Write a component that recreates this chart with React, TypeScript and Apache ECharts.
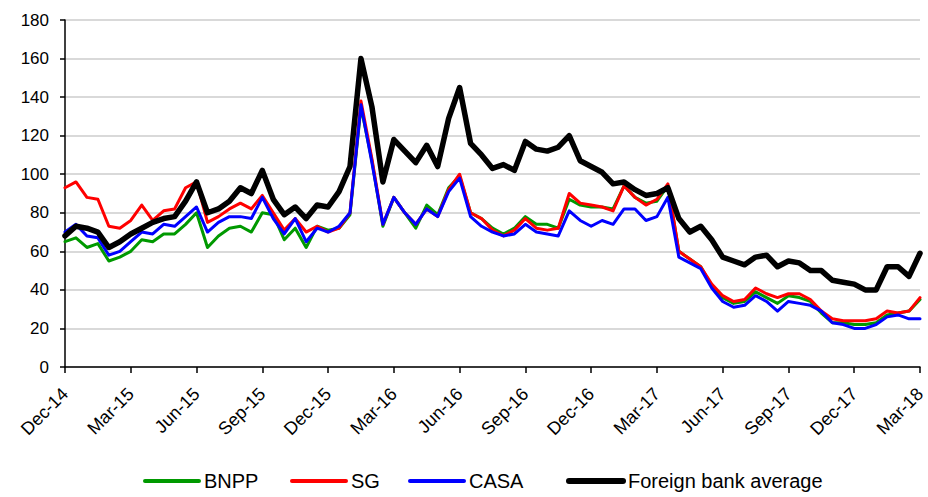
import React, { useEffect, useRef } from "react";
import * as echarts from "echarts";

// months since Dec-14 (x positions of the observations)
const monthOffsets = [
  0, 0.5, 1, 1.5, 2, 2.5, 3, 3.5, 4, 4.5, 5, 5.5, 6, 6.5, 7, 7.5, 8, 8.5, 9, 9.5,
  10, 10.5, 11, 11.5, 12, 12.5, 13, 13.5, 14, 14.5, 15, 15.5, 16, 16.5, 17, 17.5, 18, 18.5, 19, 19.5,
  20, 20.5, 21, 21.5, 22, 22.5, 23, 23.5, 24, 24.5, 25, 25.5, 26, 26.5, 27, 27.5, 28, 28.5, 29, 29.5,
  30, 30.5, 31, 31.5, 32, 32.5, 33, 33.5, 34, 34.5, 35, 35.5, 36, 36.5, 37, 37.5, 38, 38.5, 39,
];

const tickLabels = [
  "Dec-14", "Mar-15", "Jun-15", "Sep-15", "Dec-15", "Mar-16", "Jun-16",
  "Sep-16", "Dec-16", "Mar-17", "Jun-17", "Sep-17", "Dec-17", "Mar-18",
];

const seriesNames = ["BNPP", "SG", "CASA", "Foreign bank average"];

const bnpp = [
  65, 67, 62, 64, 55, 57, 60, 66, 65, 69, 69, 74, 80,
  62, 68, 72, 73, 70, 80, 79, 66, 72, 62, 73, 71,
  72, 79, 135, 107, 73, 88, 80, 72, 84, 79, 93, 99, 80,
  77, 72, 69, 72, 78, 74, 74, 72, 87, 84, 83, 83,
  82, 94, 88, 85, 86, 94, 60, 56, 52, 42, 36, 33, 34, 39,
  36, 33, 37, 36, 34, 28, 23, 23, 22, 22, 23, 27, 28, 29, 35,
];

const sg = [
  93, 96, 88, 87, 73, 72, 76, 84, 76, 81, 82, 93, 96,
  75, 78, 82, 85, 82, 89, 80, 71, 77, 70, 73, 70,
  72, 80, 138, 108, 74, 88, 80, 74, 82, 78, 92, 100, 80,
  77, 71, 68, 71, 77, 72, 71, 72, 90, 85, 84, 83,
  81, 94, 88, 84, 87, 95, 60, 56, 52, 43, 37, 34, 35, 41,
  38, 36, 38, 38, 35, 29, 25, 24, 24, 24, 25, 29, 28, 29, 36,
];

const casa = [
  70, 74, 68, 67, 58, 60, 65, 70, 69, 74, 73, 78, 83,
  70, 75, 78, 78, 77, 88, 77, 69, 77, 65, 72, 70,
  73, 80, 136, 106, 74, 88, 80, 74, 82, 78, 91, 98, 78,
  73, 70, 68, 69, 74, 70, 69, 68, 81, 76, 73, 76,
  74, 82, 82, 76, 78, 88, 57, 54, 51, 41, 34, 31, 32, 37,
  34, 29, 34, 33, 32, 29, 23, 22, 20, 20, 22, 26, 27, 25, 25,
];

const foreignAvg = [
  68, 73, 72, 70, 62, 65, 69, 72, 75, 77, 78, 86, 96,
  80, 82, 86, 93, 90, 102, 87, 79, 83, 77, 84, 83,
  91, 104, 160, 135, 96, 118, 112, 106, 115, 104, 129, 145, 116,
  110, 103, 105, 102, 117, 113, 112, 114, 120, 107, 104, 101,
  95, 96, 92, 89, 90, 93, 77, 70, 73, 66, 57, 55, 53, 57,
  58, 52, 55, 54, 50, 50, 45, 44, 43, 40, 40, 52, 52, 47, 59,
];

const FONT = "'Liberation Sans', Arial, sans-serif";

function pair(vals: number[]) {
  return vals.map((v, i) => [monthOffsets[i], v]);
}

export default function App() {
  const ref = useRef<HTMLDivElement>(null);
  useEffect(() => {
    if (!ref.current) return;
    const chart = echarts.init(ref.current, null, { renderer: "svg" });
    const mk = (name: string, data: number[], color: string, width: number) => ({
      name,
      type: "line",
      data: pair(data),
      showSymbol: false,
      symbol: "none",
      lineStyle: { color, width, join: "round", cap: "round" },
      itemStyle: { color },
      z: 2,
    });
    const legendLefts = [143, 290, 408, 566];
    const legendWidths = [4, 4, 4, 6];
    const legends = seriesNames.map((name, i) => ({
      left: legendLefts[i],
      top: 471,
      padding: 0,
      itemWidth: 54,
      itemHeight: 6,
      itemStyle: { opacity: 0 },
      textStyle: { fontFamily: FONT, fontSize: 20, color: "#000" },
      data: [{ name, lineStyle: { width: legendWidths[i], cap: "round" } }],
    }));
    chart.setOption({
      animation: false,
      textStyle: { fontFamily: FONT },
      grid: {
        left: 65,
        right: 8,
        top: 20,
        bottom: 130,
        containLabel: false,
        outerBoundsMode: "none",
      },
      legend: legends,
      xAxis: {
        type: "value",
        min: 0,
        max: 39,
        interval: 3,
        axisLine: { show: true, onZero: false, lineStyle: { color: "#000", width: 1.5 } },
        axisTick: { show: true, length: 6, lineStyle: { color: "#000", width: 1.5 } },
        splitLine: { show: false },
        axisLabel: {
          rotate: 45,
          fontSize: 18,
          lineHeight: 12,
          color: "#000",
          fontFamily: FONT,
          margin: 24,
          formatter: (v: number) => tickLabels[Math.round(v / 3)] ?? "",
        },
      },
      yAxis: {
        type: "value",
        min: 0,
        max: 180,
        interval: 20,
        axisLine: { show: true, lineStyle: { color: "#000", width: 1.5 } },
        axisTick: { show: true, length: 5, lineStyle: { color: "#000", width: 1.5 } },
        splitLine: { show: true, lineStyle: { color: "#d9d9d9", width: 2 } },
        axisLabel: { fontSize: 17, color: "#000", fontFamily: FONT, margin: 16 },
      },
      series: [
        mk(seriesNames[0], bnpp, "#009900", 3),
        mk(seriesNames[1], sg, "#ff0000", 3),
        mk(seriesNames[2], casa, "#0000ff", 3),
        mk(seriesNames[3], foreignAvg, "#000000", 5.5),
      ],
    });
    return () => chart.dispose();
  }, []);
  return (
    <div
      ref={ref}
      style={{ position: "fixed", left: 0, top: 0, width: 928, height: 497, background: "#fff" }}
    />
  );
}
